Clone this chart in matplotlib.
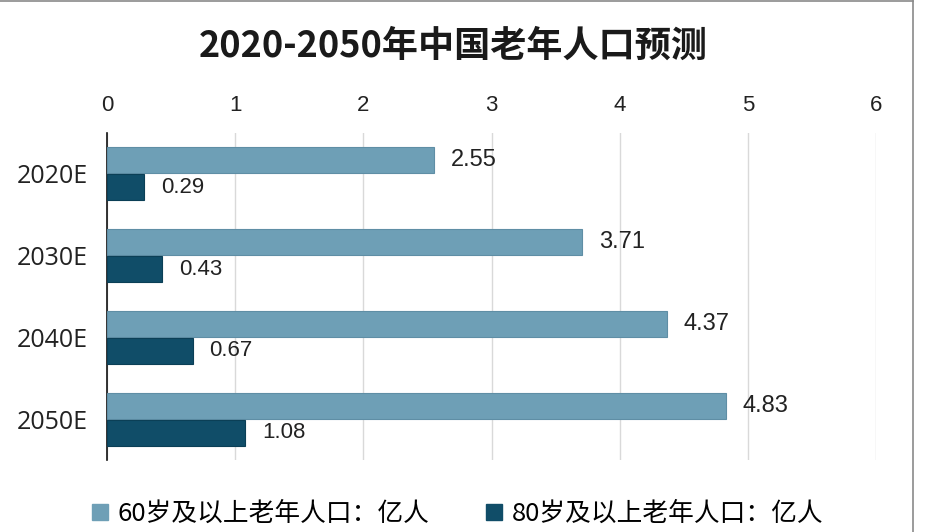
import matplotlib
matplotlib.use("Agg")
import matplotlib.pyplot as plt
from matplotlib.lines import Line2D
from matplotlib.patches import Patch
import numpy as np

plt.rcParams['font.family'] = ['Noto Sans CJK SC', 'DejaVu Sans']

title = "2020-2050年中国老年人口预测"
categories = ["2020E", "2030E", "2040E", "2050E"]
series_names = ["60岁及以上老年人口：亿人", "80岁及以上老年人口：亿人"]
pop60 = [2.55, 3.71, 4.37, 4.83]
pop80 = [0.29, 0.43, 0.67, 1.08]
xticks = [0, 1, 2, 3, 4, 5, 6]

c_light = "#6e9fb6"
c_dark = "#104d68"

fig = plt.figure(figsize=(9.36, 5.32), dpi=100)
ax = fig.add_axes([107/936, 1-460/532, (876-107)/936, (460-133)/532])

y = np.arange(len(categories))
h = 0.32
off = 0.165
ax.barh(y - off, pop60, height=h, color=c_light, edgecolor="#5f8ea5", linewidth=0.8, zorder=3)
ax.barh(y + off, pop80, height=h, color=c_dark, edgecolor="#0b3f56", linewidth=0.8, zorder=3)

lab_font = ["Liberation Sans", "DejaVu Sans"]
for yi, v in zip(y, pop60):
    ax.annotate(f"{v:.2f}", (v, yi - off), xytext=(12, 0), textcoords="offset points",
                va="center", ha="left", fontsize=17, family=lab_font, color="#222222")
for yi, v in zip(y, pop80):
    ax.annotate(f"{v:.2f}", (v, yi + off), xytext=(12, 0), textcoords="offset points",
                va="center", ha="left", fontsize=16, family=lab_font, color="#222222")

ax.set_xlim(0, 6)
ax.set_ylim(len(categories) - 0.5, -0.5)
ax.set_xticks(xticks)
ax.set_xticklabels([str(t) for t in xticks], family=lab_font, fontsize=16)
ax.xaxis.tick_top()
ax.tick_params(axis="x", length=0, pad=12, colors="#222222")
ax.set_yticks(y)
ax.set_yticklabels(categories, fontsize=18, family=["Open Sans", "DejaVu Sans"])
ax.tick_params(axis="y", length=0, pad=14, colors="#222222")
ax.grid(axis="x", color="#d9d9d9", linewidth=1, zorder=0)
for s in ["top", "right", "bottom"]:
    ax.spines[s].set_visible(False)
ax.spines["left"].set_color("#111111")
ax.spines["left"].set_linewidth(1.2)

fig.text(453/936, 1-46/532, title, ha="center", va="center", fontsize=26, fontweight="bold", color="#1a1a1a")

handles = [Patch(facecolor=c_light, edgecolor=c_light), Patch(facecolor=c_dark, edgecolor=c_dark)]
fig.legend(handles, series_names, loc="center", bbox_to_anchor=(458/936, 1-514/532), ncol=2,
           frameon=False, fontsize=18.5, handlelength=0.6, handleheight=0.6, handletextpad=0.4,
           columnspacing=2.2, borderpad=0.1)

# frame lines
fig.add_artist(Line2D([0, 913/936], [1-1/532, 1-1/532], transform=fig.transFigure, color="#8a8a8a", linewidth=1.2))
fig.add_artist(Line2D([913/936, 913/936], [0, 1-1/532], transform=fig.transFigure, color="#8a8a8a", linewidth=1.2))

fig.savefig("out.png", dpi=100)
